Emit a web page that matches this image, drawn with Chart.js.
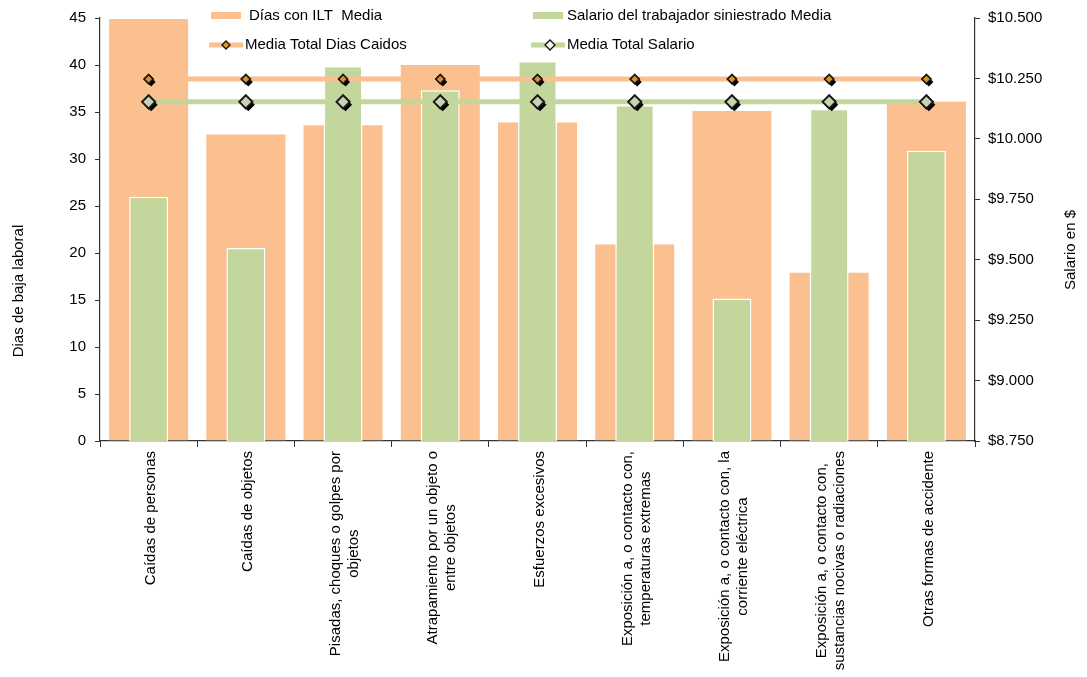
<!DOCTYPE html>
<html><head><meta charset="utf-8">
<script src="https://cdn.jsdelivr.net/npm/chart.js@4.4.1/dist/chart.umd.min.js"></script>
<style>html,body{margin:0;padding:0;background:#fff}#wrap{width:1087px;height:677px;position:relative}</style>
</head><body><div id="wrap"><canvas id="c" width="1087" height="677"></canvas></div>
<script>
const categories = [
  "Caídas de personas",
  "Caídas de objetos",
  ["Pisadas, choques o golpes por", "objetos"],
  ["Atrapamiento por un objeto o", "entre objetos"],
  "Esfuerzos excesivos",
  ["Exposición a, o contacto con,", "temperaturas extremas"],
  ["Exposición a, o contacto con, la", "corriente eléctrica"],
  ["Exposición a, o contacto con,", "sustancias nocivas o radiaciones"],
  "Otras formas de accidente"
];
const diasMedia = [45.0, 32.7, 33.7, 40.1, 34.0, 21.0, 35.2, 18.0, 36.2];
const salarioMedia = [9761, 9548, 10301, 10201, 10322, 10140, 9340, 10125, 9951];
const mediaTotalDias = [38.5, 38.5, 38.5, 38.5, 38.5, 38.5, 38.5, 38.5, 38.5];
const mediaTotalSalario = [10153, 10153, 10153, 10153, 10153, 10153, 10153, 10153, 10153];
const leftTicks = [0, 5, 10, 15, 20, 25, 30, 35, 40, 45];
const rightTicks = [8750, 9000, 9250, 9500, 9750, 10000, 10250, 10500];
const seriesNames = ["Días con ILT  Media", "Salario del trabajador siniestrado Media", "Media Total Dias Caidos", "Media Total Salario"];
const leftTitle = "Dias de baja laboral";
const rightTitle = "Salario en $";

const FONT = '"Liberation Sans", Arial, sans-serif';
const ORANGE = '#FAC090', GREEN = '#C3D69B';
const fmtMoney = v => '$' + String(v).replace(/\B(?=(\d{3})+(?!\d))/g, '.');

function diamond(ctx, x, y, r) {
  ctx.beginPath();
  ctx.moveTo(x - r, y); ctx.lineTo(x, y - r); ctx.lineTo(x + r, y); ctx.lineTo(x, y + r);
  ctx.closePath();
}

const overlay = {
  id: 'overlay',
  afterDatasetDraw(chart, args) {
    const ds = chart.data.datasets[args.index];
    if (ds.type !== 'line') return;
    const ctx = chart.ctx;
    ctx.save();
    ctx.fillStyle = '#000';
    args.meta.data.forEach(pt => { diamond(ctx, pt.x + 2.5, pt.y + 3, ds.pointRadius); ctx.fill(); });
    ctx.restore();
    args.meta.data.forEach(pt => pt.draw(ctx, chart.chartArea));
  },
  afterDraw(chart) {
    const ctx = chart.ctx;
    const xs = chart.scales.x;
    ctx.save();
    ctx.font = '15px ' + FONT;
    ctx.fillStyle = '#000';
    ctx.textAlign = 'center';
    ctx.textBaseline = 'middle';
    chart.data.labels.forEach((lab, i) => {
      const lines = Array.isArray(lab) ? lab : [lab];
      const maxW = Math.max(...lines.map(l => ctx.measureText(l).width));
      const cx = xs.getPixelForValue(i) + 2;
      const top = xs.top + 10;
      ctx.save();
      ctx.translate(cx, top + maxW / 2);
      ctx.rotate(-Math.PI / 2);
      lines.forEach((l, j) => ctx.fillText(l, 0, (j - (lines.length - 1) / 2) * 18));
      ctx.restore();
    });
    // axis titles
    ctx.save(); ctx.translate(19, 291); ctx.rotate(-Math.PI / 2); ctx.fillText(leftTitle, 0, 0); ctx.restore();
    ctx.save(); ctx.translate(1071, 250); ctx.rotate(-Math.PI / 2); ctx.fillText(rightTitle, 0, 0); ctx.restore();
    // legend
    ctx.textAlign = 'left';
    ctx.fillStyle = ORANGE; ctx.fillRect(211, 12, 30, 7);
    ctx.fillStyle = GREEN; ctx.fillRect(533, 12, 30, 7);
    ctx.lineWidth = 5; ctx.lineCap = 'butt';
    ctx.strokeStyle = ORANGE; ctx.beginPath(); ctx.moveTo(209, 45); ctx.lineTo(243, 45); ctx.stroke();
    ctx.strokeStyle = GREEN; ctx.beginPath(); ctx.moveTo(531, 45); ctx.lineTo(565, 45); ctx.stroke();
    ctx.lineWidth = 1.3; ctx.strokeStyle = '#111';
    diamond(ctx, 226, 45, 4); ctx.fillStyle = '#E8971E'; ctx.fill(); ctx.stroke();
    diamond(ctx, 550, 45, 5); ctx.fillStyle = '#F4F6EE'; ctx.fill(); ctx.stroke();
    ctx.fillStyle = '#000';
    ctx.fillText(seriesNames[0], 249, 16);
    ctx.fillText(seriesNames[1], 567, 16);
    ctx.fillText(seriesNames[2], 245, 45);
    ctx.fillText(seriesNames[3], 567, 45);
    ctx.restore();
  }
};

Chart.defaults.font.family = FONT;
Chart.defaults.font.size = 15;
Chart.defaults.color = '#000';

new Chart(document.getElementById('c'), {
  data: {
    labels: categories,
    datasets: [
      { type: 'line', label: seriesNames[3], data: mediaTotalSalario, yAxisID: 'y1', order: 1,
        borderColor: GREEN, borderWidth: 5, pointStyle: 'rectRot', pointRadius: 6.5, pointHoverRadius: 6.5,
        pointBackgroundColor: '#C8D3B4', pointBorderColor: '#1a1a1a', pointBorderWidth: 1.8 },
      { type: 'line', label: seriesNames[2], data: mediaTotalDias, yAxisID: 'y', order: 2,
        borderColor: ORANGE, borderWidth: 5, pointStyle: 'rectRot', pointRadius: 4.5, pointHoverRadius: 4.5,
        pointBackgroundColor: '#E0921F', pointBorderColor: '#1a1a1a', pointBorderWidth: 1.5 },
      { type: 'bar', label: seriesNames[1], data: salarioMedia, yAxisID: 'y1', order: 3, grouped: false,
        backgroundColor: GREEN, borderColor: '#FFFFFF', borderWidth: 1.5,
        categoryPercentage: 1, barPercentage: 0.40 },
      { type: 'bar', label: seriesNames[0], data: diasMedia, yAxisID: 'y', order: 4, grouped: false,
        backgroundColor: ORANGE, borderColor: 'rgba(255,255,255,0.5)', borderWidth: 1,
        categoryPercentage: 1, barPercentage: 0.833 }
    ]
  },
  options: {
    responsive: false,
    animation: false,
    devicePixelRatio: 1,
    layout: { padding: { top: 17, left: 0, right: 0, bottom: 0 } },
    plugins: { legend: { display: false }, tooltip: { enabled: false } },
    scales: {
      x: {
        offset: true,
        grid: { offset: true, drawOnChartArea: false, tickLength: 6, color: '#333' },
        border: { color: '#333', width: 1.2 },
        ticks: { display: false },
        afterFit(s) { s.height = 236; }
      },
      y: {
        position: 'left', min: 0, max: 45,
        afterBuildTicks(s) { s.ticks = leftTicks.map(v => ({ value: v })); },
        ticks: { padding: 9, color: '#000', font: { size: 15 } },
        grid: { drawOnChartArea: false, tickLength: 5, color: '#333' },
        border: { color: '#333', width: 1.2 },
        afterFit(s) { s.width = 100; }
      },
      y1: {
        position: 'right', min: 8750, max: 10500,
        afterBuildTicks(s) { s.ticks = rightTicks.map(v => ({ value: v })); },
        ticks: { padding: 8, color: '#000', font: { size: 15 }, callback: v => fmtMoney(v) },
        grid: { drawOnChartArea: false, tickLength: 5, color: '#333' },
        border: { color: '#333', width: 1.2 },
        afterFit(s) { s.width = 112; }
      }
    }
  },
  plugins: [overlay]
});
</script>
</body></html>
